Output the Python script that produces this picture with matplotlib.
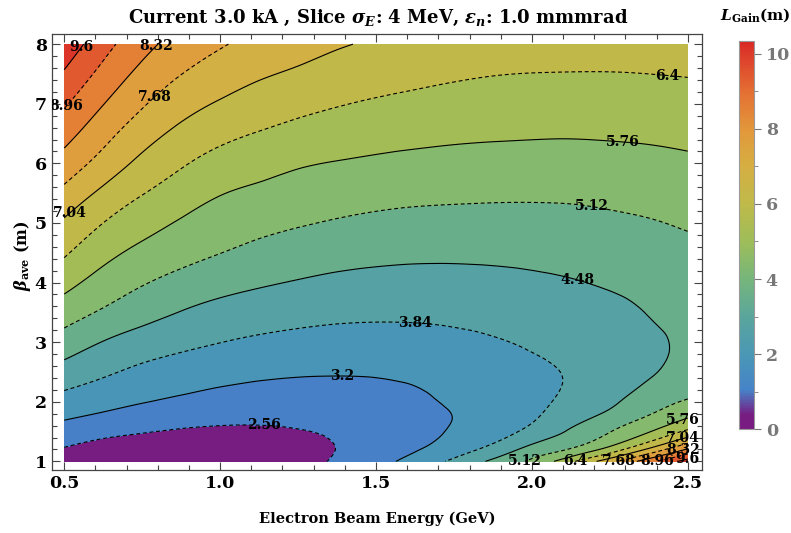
import numpy as np
import matplotlib
matplotlib.use('Agg')
import matplotlib.pyplot as plt
import matplotlib.tri as mtri
from matplotlib.colors import LinearSegmentedColormap, Normalize
from matplotlib.ticker import MultipleLocator, FixedLocator
import matplotlib.cm as cm

# grid
energy = [0.5, 0.625, 0.75, 0.875, 1.0, 1.125, 1.25, 1.375, 1.5,
          1.625, 1.75, 1.875, 2.0, 2.125, 2.25, 2.375, 2.5]
beta = [1.0, 1.25, 1.5, 1.75, 2.0, 2.5, 3.0, 3.5, 4.0, 4.5, 5.0, 5.5,
        6.0, 6.5, 7.0, 7.5, 8.0]

# gain length (m): one row per beta value, entries follow energy
l_gain = [
    [2.25, 2.16, 2.11, 2.09, 2.11, 2.20, 2.40, 2.62, 2.97, 3.44, 3.97, 4.60, 5.25, 6.26, 7.45, 8.70, 9.90],
    [2.58, 2.38, 2.28, 2.23, 2.22, 2.27, 2.38, 2.57, 2.82, 3.10, 3.47, 3.94, 4.57, 5.01, 5.76, 6.83, 8.04],
    [2.93, 2.74, 2.60, 2.50, 2.45, 2.46, 2.53, 2.63, 2.77, 2.99, 3.27, 3.58, 4.02, 4.56, 5.10, 5.72, 6.54],
    [3.28, 3.10, 2.92, 2.79, 2.72, 2.69, 2.69, 2.71, 2.80, 3.00, 3.21, 3.47, 3.77, 4.20, 4.67, 5.16, 5.70],
    [3.60, 3.40, 3.23, 3.08, 2.97, 2.90, 2.88, 2.87, 2.94, 3.09, 3.27, 3.45, 3.68, 4.00, 4.36, 4.83, 5.18],
    [4.23, 3.94, 3.71, 3.55, 3.42, 3.33, 3.27, 3.25, 3.26, 3.31, 3.40, 3.54, 3.71, 3.89, 4.11, 4.40, 4.75],
    [4.84, 4.46, 4.19, 4.00, 3.85, 3.74, 3.67, 3.62, 3.61, 3.63, 3.69, 3.79, 3.91, 4.04, 4.19, 4.37, 4.59],
    [5.42, 5.04, 4.72, 4.46, 4.27, 4.14, 4.04, 3.98, 3.95, 3.95, 3.98, 4.03, 4.10, 4.19, 4.32, 4.50, 4.64],
    [5.97, 5.51, 5.17, 4.91, 4.71, 4.56, 4.44, 4.35, 4.30, 4.28, 4.29, 4.32, 4.37, 4.44, 4.55, 4.66, 4.76],
    [6.48, 5.96, 5.60, 5.34, 5.13, 4.96, 4.82, 4.71, 4.64, 4.60, 4.59, 4.60, 4.63, 4.69, 4.77, 4.86, 4.95],
    [6.95, 6.40, 6.00, 5.70, 5.46, 5.29, 5.17, 5.07, 4.99, 4.94, 4.92, 4.91, 4.92, 4.95, 5.01, 5.08, 5.19],
    [7.51, 6.90, 6.43, 6.08, 5.79, 5.63, 5.48, 5.39, 5.32, 5.27, 5.24, 5.22, 5.21, 5.22, 5.26, 5.33, 5.43],
    [8.06, 7.44, 6.88, 6.47, 6.17, 5.99, 5.83, 5.73, 5.66, 5.61, 5.57, 5.54, 5.52, 5.52, 5.54, 5.59, 5.66],
    [8.56, 7.90, 7.32, 6.88, 6.57, 6.37, 6.21, 6.08, 5.99, 5.92, 5.87, 5.84, 5.82, 5.81, 5.83, 5.86, 5.91],
    [9.04, 8.34, 7.75, 7.29, 6.98, 6.75, 6.58, 6.44, 6.33, 6.25, 6.18, 6.13, 6.10, 6.09, 6.10, 6.13, 6.17],
    [9.53, 8.77, 8.15, 7.69, 7.37, 7.12, 6.95, 6.78, 6.66, 6.56, 6.48, 6.42, 6.39, 6.38, 6.38, 6.40, 6.43],
    [10.02, 9.20, 8.53, 8.07, 7.74, 7.48, 7.27, 7.10, 6.97, 6.87, 6.79, 6.73, 6.69, 6.67, 6.66, 6.67, 6.68],
]

contour_levels = [2.56, 3.2, 3.84, 4.48, 5.12, 5.76, 6.4, 7.04, 7.68, 8.32, 8.96, 9.6]
cbar_ticks = [0, 2, 4, 6, 8, 10]
cbar_max = 10.35

# where the labels sit (data coords)
label_spots = [
    (0.55, 7.97), (2.50, 1.03),
    (0.51, 6.95), (2.40, 1.0),
    (0.80, 7.95), (2.485, 1.22),
    (0.79, 7.11), (2.28, 1.0),
    (0.525, 5.11), (2.485, 1.39),
    (2.435, 7.45), (2.14, 1.0),
    (2.29, 6.36), (2.485, 1.68),
    (2.19, 5.25), (1.965, 1.0),
    (2.145, 4.05),
    (1.625, 3.34),
    (1.39, 2.42),
    (1.14, 1.58),
]

rainbow = LinearSegmentedColormap.from_list('rainbow_m', [
    (0.00, '#781c81'),
    (0.035, '#771d82'),
    (0.10, '#4583c8'),
    (0.19, '#4a97b6'),
    (0.29, '#5aa69c'),
    (0.39, '#77b67a'),
    (0.48, '#9dbd5a'),
    (0.58, '#bfba4a'),
    (0.68, '#d6ae42'),
    (0.77, '#e2983b'),
    (0.87, '#e46f33'),
    (0.97, '#dc3a2a'),
    (1.00, '#d92724'),
])

plt.rcParams['font.family'] = 'DejaVu Serif'
plt.rcParams['font.weight'] = 'bold'
plt.rcParams['mathtext.fontset'] = 'custom'
plt.rcParams['mathtext.rm'] = 'DejaVu Serif:bold'
plt.rcParams['mathtext.it'] = 'DejaVu Serif:italic:bold'
plt.rcParams['mathtext.bf'] = 'DejaVu Serif:bold'

fig = plt.figure(figsize=(7.91, 5.33), dpi=100)
ax = fig.add_axes([0.0654, 0.1182, 0.8226, 0.818])

Z = np.array(l_gain)
ne, nb = len(energy), len(beta)

# regular cell triangulation, in axes scaled so a grid step is ~1 in both
# directions; the cubic refiner then smooths the contours
EE, BB = np.meshgrid(energy, beta)
xs = (EE.ravel() - energy[0]) / 0.125
ys = (BB.ravel() - beta[0]) / 0.25
tris = []
for j in range(nb - 1):
    for i in range(ne - 1):
        a = j * ne + i
        tris.append([a, a + 1, a + ne + 1])
        tris.append([a, a + ne + 1, a + ne])
tri = mtri.Triangulation(xs, ys, tris)
interp = mtri.CubicTriInterpolator(tri, Z.ravel(), kind='min_E')
tri_fine, z_fine = mtri.UniformTriRefiner(tri).refine_field(
    Z.ravel(), triinterpolator=interp, subdiv=3)
tri_data = mtri.Triangulation(energy[0] + tri_fine.x * 0.125,
                              beta[0] + tri_fine.y * 0.25,
                              tri_fine.triangles)

fill_levels = [min(z_fine.min(), Z.min()) - 0.01] + contour_levels + [max(z_fine.max(), Z.max()) + 0.01]
norm = Normalize(Z.min(), Z.max())
ax.tricontourf(tri_data, z_fine, levels=fill_levels, cmap=rainbow, norm=norm)

styles = [(0, (3.5, 2.5)) if i % 2 == 0 else 'solid' for i in range(len(contour_levels))]
cs = ax.tricontour(tri_data, z_fine, levels=contour_levels, colors='black',
                   linewidths=0.8, linestyles=styles)
labels = ax.clabel(cs, contour_levels, fmt='%g', fontsize=10, inline=False,
                   manual=label_spots)
for t in labels:
    t.set_rotation(0)

ax.set_xlim(0.46, 2.547)
ax.set_ylim(0.855, 8.17)
ax.set_xticks([0.5, 1.0, 1.5, 2.0, 2.5])
ax.set_xticklabels(['0.5', '1.0', '1.5', '2.0', '2.5'])
ax.set_yticks([1, 2, 3, 4, 5, 6, 7, 8])
ax.xaxis.set_minor_locator(MultipleLocator(0.1))
ax.yaxis.set_minor_locator(MultipleLocator(0.2))
ax.tick_params(which='both', direction='in', top=True, right=True,
               color='#444444', width=0.8, labelsize=12.5)
ax.tick_params(which='major', length=6)
ax.tick_params(which='minor', length=3.5)
for sp in ax.spines.values():
    sp.set_color('#444444')
    sp.set_linewidth(0.9)

fig.text(0.478, 0.966, r'Current 3.0 kA , Slice $\sigma_E$: 4 MeV, $\epsilon_n$: 1.0 mmmrad',
         ha='center', va='center', fontsize=13)
fig.text(0.477, 0.026, 'Electron Beam Energy (GeV)', ha='center', va='center', fontsize=10.5)
fig.text(0.029, 0.52, r'$\beta_{\rm ave}$ (m)', ha='center', va='center',
         rotation=90, fontsize=11.5)

cax = fig.add_axes([0.934, 0.195, 0.019, 0.7285])
sm = cm.ScalarMappable(norm=Normalize(0, cbar_max), cmap=rainbow)
cb = fig.colorbar(sm, cax=cax)
cb.set_ticks(cbar_ticks)
cb.ax.yaxis.set_minor_locator(FixedLocator([1, 3, 5, 7, 9]))
cb.ax.tick_params(which='both', colors='#777777', labelsize=12.5)
cb.ax.tick_params(which='major', length=5)
cb.ax.tick_params(which='minor', length=3)
cb.outline.set_edgecolor('#999999')
cb.outline.set_linewidth(0.8)
fig.text(0.955, 0.972, r'$L_{\rm Gain}$(m)', ha='center', va='center', fontsize=11)

fig.savefig('out.png', dpi=100)
